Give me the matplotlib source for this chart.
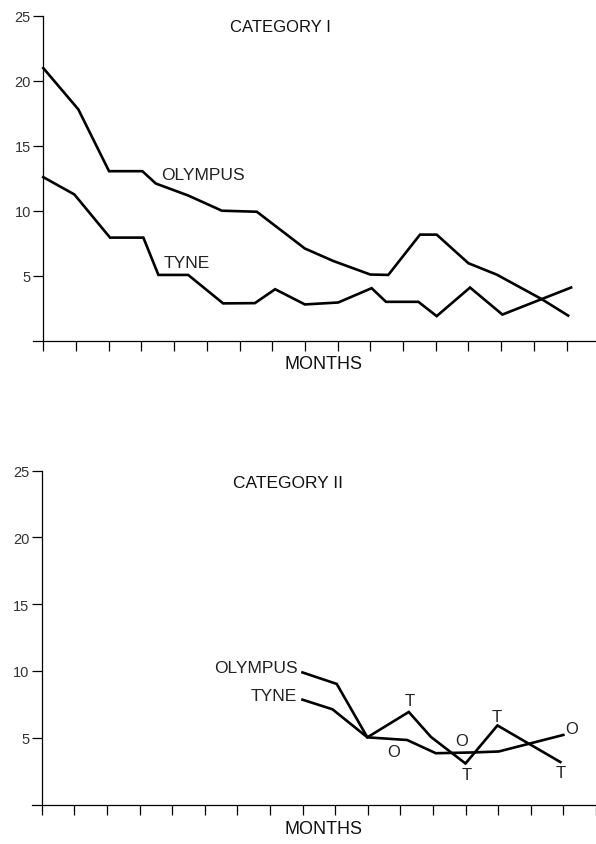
import matplotlib
matplotlib.use("Agg")
import matplotlib.pyplot as plt

plt.rcParams['font.family'] = ['Liberation Sans', 'DejaVu Sans']

# ---- data (months, counts) ----
y_ticks = [5, 10, 15, 20, 25]
y_tick_labels = ["5", "10", "15", "20", "25"]

# Category I
cat1_olympus_x = [0, 1.07, 2.01, 3.03, 3.44, 4.43, 5.46, 6.53, 8.0, 8.87, 10.0, 10.55, 11.52, 12.03, 13.0, 13.87, 15.24, 16.05]
cat1_olympus_y = [20.97, 17.8, 13.04, 13.04, 12.09, 11.17, 10.0, 9.92, 7.09, 6.13, 5.09, 5.06, 8.16, 8.16, 5.96, 5.08, 3.2, 1.93]
cat1_tyne_x = [0, 0.95, 2.04, 3.06, 3.52, 4.43, 5.5, 6.47, 7.09, 8.0, 9.02, 10.04, 10.48, 11.47, 12.03, 13.05, 14.04, 15.24, 16.14]
cat1_tyne_y = [12.58, 11.25, 7.93, 7.93, 5.06, 5.06, 2.87, 2.89, 3.96, 2.79, 2.94, 4.04, 2.99, 2.99, 1.89, 4.09, 2.01, 3.2, 4.09]

# Category II
cat2_olympus_x = [8.0, 9.05, 9.99, 11.21, 12.09, 13.25, 14.02, 16.0]
cat2_olympus_y = [9.89, 9.03, 5.03, 4.83, 3.84, 3.90, 3.97, 5.21]
cat2_tyne_x = [8.0, 8.92, 9.99, 11.26, 11.94, 13.0, 13.98, 15.91]
cat2_tyne_y = [7.85, 7.13, 5.03, 6.93, 5.06, 3.07, 5.92, 3.18]

# point letters in Category II
cat2_letters = ["T", "O", "O", "T", "T", "O", "T"]
cat2_letter_x = [11.3, 10.8, 12.89, 13.03, 13.96, 16.26, 15.93]
cat2_letter_y = [7.78, 3.95, 4.83, 2.26, 6.6, 5.7, 2.4]

W, H = 596, 845
fig = plt.figure(figsize=(W / 100, H / 100), dpi=100)

LW = 1.9
AXW = 0.9
TXT = '#222222'


def make_axes(x0_px, x_axis_px, top_px, px_per_month, nticks):
    left_ext = 0.3
    left = (x0_px - left_ext * px_per_month) / W
    bottom = 1 - x_axis_px / H
    height = (x_axis_px - top_px) / H
    width = 1 - left
    ax = fig.add_axes([left, bottom, width, height])
    ax.set_xlim(-left_ext, -left_ext + width * W / px_per_month)
    ax.set_ylim(0, 25)
    for s in ['top', 'right']:
        ax.spines[s].set_visible(False)
    ax.spines['left'].set_position(('data', 0))
    ax.spines['left'].set_linewidth(AXW)
    ax.spines['bottom'].set_linewidth(AXW)
    ax.set_xticks(range(0, nticks))
    ax.set_xticklabels([])
    ax.set_yticks(y_ticks)
    ax.set_yticklabels(y_tick_labels)
    ax.tick_params(axis='x', direction='out', length=7, width=AXW)
    ax.tick_params(axis='y', direction='out', length=7, width=AXW, pad=2,
                   labelsize=10.5, labelcolor='#333333')
    ax.patch.set_alpha(0)
    return ax


# ---- Category I ----
ax1 = make_axes(43.3, 341.7, 16.7, 32.7, 17)
ax1.plot(cat1_olympus_x, cat1_olympus_y, color='black', lw=LW, solid_joinstyle='miter')
ax1.plot(cat1_tyne_x, cat1_tyne_y, color='black', lw=LW, solid_joinstyle='miter')
ax1.text(3.6, 12.78, "OLYMPUS", fontsize=12.5, ha='left', va='center', color=TXT)
ax1.text(3.68, 6.04, "TYNE", fontsize=12.5, ha='left', va='center', color=TXT)

# ---- Category II ----
ax2 = make_axes(41.7, 805.5, 471.7, 32.6, 18)
ax2.plot(cat2_olympus_x, cat2_olympus_y, color='black', lw=LW, solid_joinstyle='miter')
ax2.plot(cat2_tyne_x, cat2_tyne_y, color='black', lw=LW, solid_joinstyle='miter')
ax2.text(7.84, 10.26, "OLYMPUS", fontsize=12.5, ha='right', va='center', color=TXT)
ax2.text(7.84, 8.2, "TYNE", fontsize=12.5, ha='right', va='center', color=TXT)
for t, x, y in zip(cat2_letters, cat2_letter_x, cat2_letter_y):
    ax2.text(x, y, t, fontsize=12, ha='center', va='center', color=TXT)

# ---- titles and axis names ----
fig.text(280 / W, 1 - 27 / H, "CATEGORY I", fontsize=12, ha='center', va='center', color='#111111')
fig.text(324 / W, 1 - 365 / H, "MONTHS", fontsize=13, ha='center', va='center', color='#111111')
fig.text(288 / W, 1 - 484 / H, "CATEGORY II", fontsize=12.5, ha='center', va='center', color='#111111')
fig.text(323 / W, 1 - 830 / H, "MONTHS", fontsize=13, ha='center', va='center', color='#111111')

fig.savefig("out.png", dpi=100, facecolor='white')
